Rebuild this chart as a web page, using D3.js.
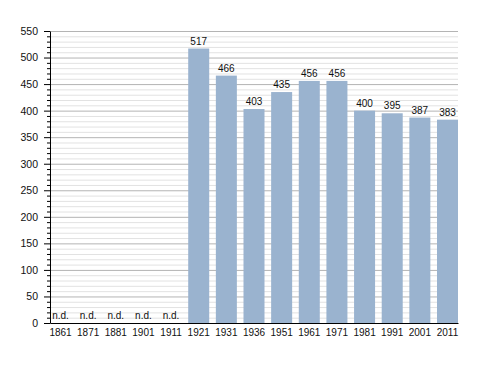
<!DOCTYPE html>
<html>
<head>
<meta charset="utf-8">
<script src="https://cdn.jsdelivr.net/npm/d3@7"></script>
<style>
  body { margin: 0; background: #fff; }
  text { font-family: "Liberation Sans", Arial, sans-serif; }
</style>
</head>
<body>
<div id="area"></div>
<script>
let years  = ["1861", "1871", "1881", "1901", "1911", "1921", "1931", "1936", "1951", "1961", "1971", "1981", "1991", "2001", "2011"];
let values = [null, null, null, null, null, 517, 466, 403, 435, 456, 456, 400, 395, 387, 383];
let majorTicks = [0, 50, 100, 150, 200, 250, 300, 350, 400, 450, 500, 550];

let margin = { top: 31, right: 30, bottom: 50, left: 50 };
let exteriorWidth = 488, exteriorHeight = 373;
let interiorWidth = exteriorWidth - margin.left - margin.right,
    interiorHeight = exteriorHeight - margin.top - margin.bottom;

let svg = d3.select("#area").append("svg")
    .attr("width", exteriorWidth)
    .attr("height", exteriorHeight)
  .append("g")
    .attr("transform", translate(margin.left, margin.top));

let x = d3.scaleBand().domain(years).range([0, interiorWidth]).paddingInner(0.24).paddingOuter(0);
let y = d3.scaleLinear().domain([0, 550]).range([interiorHeight, 0]);

let minorTicks = d3.range(0, 551, 10).filter(d => d % 50 !== 0);

// grid
svg.append("g").selectAll("line").data(minorTicks).join("line")
    .attr("x1", 0).attr("x2", interiorWidth)
    .attr("y1", d => y(d) + 0.5).attr("y2", d => y(d) + 0.5)
    .attr("stroke", "#e2e2e2");
svg.append("g").selectAll("line").data(majorTicks.slice(1)).join("line")
    .attr("x1", 0).attr("x2", interiorWidth)
    .attr("y1", d => y(d) + 0.5).attr("y2", d => y(d) + 0.5)
    .attr("stroke", "#b4b4b4");

// bars
let data = years.map((c, i) => ({ category: c, measure: values[i] }));
svg.append("g").selectAll("rect").data(data.filter(d => d.measure != null)).join("rect")
    .attr("x", d => x(d.category))
    .attr("y", d => y(d.measure))
    .attr("width", x.bandwidth())
    .attr("height", d => y(0) - y(d.measure))
    .attr("fill", "#9ab3cf");

svg.append("g").selectAll("text").data(data).join("text")
    .attr("x", d => x(d.category) + x.bandwidth() / 2)
    .attr("y", d => d.measure == null ? y(0) - 4 : y(d.measure) - 4)
    .attr("text-anchor", "middle")
    .attr("font-size", "10px")
    .attr("fill", "#111")
    .text(d => d.measure == null ? "n.d." : d.measure);

// axes
svg.append("g")
    .call(d3.axisLeft(y).tickValues(minorTicks).tickSize(3).tickFormat(""))
    .call(g => g.select(".domain").remove());
svg.append("g")
    .call(d3.axisLeft(y).tickValues(majorTicks).tickSize(6).tickSizeOuter(0).tickPadding(6))
    .call(g => g.selectAll("text").attr("font-size", "10.5px").attr("fill", "#111"))
    .call(g => g.selectAll("line, path").attr("stroke", "#000"));

svg.append("g")
    .attr("transform", translate(0, interiorHeight))
    .call(d3.axisBottom(x).tickSize(0).tickPadding(6))
    .call(g => g.select(".domain").attr("stroke", "#000"))
    .call(g => g.selectAll("text").attr("font-size", "10px").attr("fill", "#111"));

function translate(x, y = 0) {
  return "translate(" + x + "," + y + ")";
}
</script>
</body>
</html>
